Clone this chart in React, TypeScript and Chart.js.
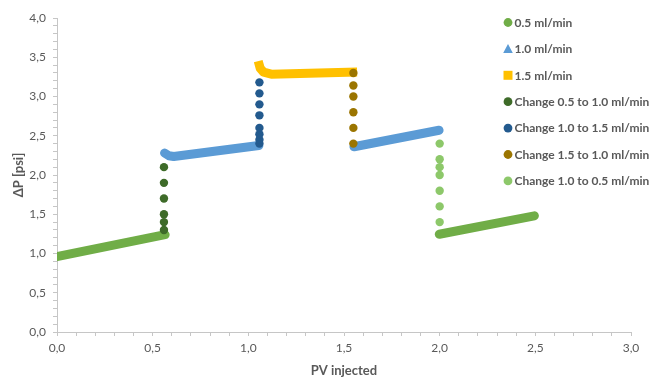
import { useEffect, useRef } from "react";
import { Chart, registerables } from "chart.js";

Chart.register(...registerables);

// ---- data ----
const flow05PV = [0.0, 0.565, null, 1.998, 2.495];
const flow05DP = [0.96, 1.24, null, 1.245, 1.48];

const flow10PV = [0.562, 0.585, 0.61, 1.055, null, 1.552, 1.997];
const flow10DP = [2.28, 2.245, 2.235, 2.375, null, 2.36, 2.57];

const flow15PV = [1.058, 1.062, 1.08, 1.12, 1.545];
const flow15DP = [3.395, 3.36, 3.31, 3.285, 3.31];

const change05to10PV = [0.559, 0.559, 0.559, 0.559, 0.559, 0.559];
const change05to10DP = [1.3, 1.4, 1.5, 1.7, 1.9, 2.1];

const change10to15PV = [1.058, 1.058, 1.058, 1.058, 1.058, 1.058, 1.058, 1.058];
const change10to15DP = [2.4, 2.45, 2.52, 2.6, 2.76, 2.9, 3.04, 3.18];

const change15to10PV = [1.549, 1.549, 1.549, 1.549, 1.549, 1.549];
const change15to10DP = [3.3, 3.14, 3.0, 2.8, 2.6, 2.4];

const change10to05PV = [2.0, 2.0, 2.0, 2.0, 2.0, 2.0, 2.0];
const change10to05DP = [2.4, 2.2, 2.1, 2.0, 1.8, 1.6, 1.4];

const seriesLabels = [
  "0.5 ml/min",
  "1.0 ml/min",
  "1.5 ml/min",
  "Change 0.5 to 1.0 ml/min",
  "Change 1.0 to 1.5 ml/min",
  "Change 1.5 to 1.0 ml/min",
  "Change 1.0 to 0.5 ml/min",
];

const xTitle = "PV injected";
const yTitle = "\u0394P [psi]";

const toPoints = (xs: (number | null)[], ys: (number | null)[]) =>
  xs.map((x, i) => ({ x: x as number, y: ys[i] as number }));

const fmt = (v: number) => v.toFixed(1).replace(".", ",");
const isMajor = (v: number) => Math.abs(v * 2 - Math.round(v * 2)) < 1e-6;

const GREY_TEXT = "#595959";
const AXIS = "#c6c6c6";

const legendPlugin = {
  id: "customLegend",
  afterDraw(chart: any) {
    const ctx = chart.ctx as CanvasRenderingContext2D;
    ctx.save();
    ctx.textBaseline = "middle";
    ctx.textAlign = "left";
    ctx.font = "bold 12px Lato";
    chart.data.datasets.forEach((ds: any, i: number) => {
      const y = 22.5 + i * 26.4;
      const x = 508;
      ctx.fillStyle = ds.legendColor;
      ctx.beginPath();
      if (ds.legendShape === "triangle") {
        ctx.moveTo(x, y - 5);
        ctx.lineTo(x - 4.8, y + 4);
        ctx.lineTo(x + 4.8, y + 4);
        ctx.closePath();
      } else if (ds.legendShape === "rect") {
        ctx.rect(x - 4.5, y - 4.5, 9, 9);
      } else {
        ctx.arc(x, y, 4.4, 0, Math.PI * 2);
      }
      ctx.fill();
      ctx.fillStyle = GREY_TEXT;
      ctx.fillText(ds.label, 514.5, y + 0.5);
    });
    ctx.restore();
  },
};

export default function App() {
  const canvasRef = useRef<HTMLCanvasElement | null>(null);

  useEffect(() => {
    document.body.style.margin = "0";
    const canvas = canvasRef.current;
    if (!canvas) return;

    const lineDs = (i: number, xs: any[], ys: any[], color: string, shape: string, cap: string) => ({
      label: seriesLabels[i],
      data: toPoints(xs, ys),
      borderColor: color,
      backgroundColor: color,
      borderWidth: 9,
      borderCapStyle: cap,
      borderJoinStyle: "round",
      pointRadius: 0,
      pointHoverRadius: 0,
      showLine: true,
      spanGaps: false,
      tension: 0,
      order: 2,
      legendColor: color,
      legendShape: shape,
    });

    const dotDs = (i: number, xs: any[], ys: any[], color: string) => ({
      label: seriesLabels[i],
      data: toPoints(xs, ys),
      borderColor: color,
      backgroundColor: color,
      pointRadius: 4.2,
      pointBorderWidth: 0,
      pointStyle: "circle",
      showLine: false,
      order: 1,
      legendColor: color,
      legendShape: "circle",
    });

    const chart = new Chart(canvas, {
      type: "line",
      data: {
        datasets: [
          lineDs(0, flow05PV, flow05DP, "#70AD47", "circle", "round"),
          lineDs(1, flow10PV, flow10DP, "#5B9BD5", "triangle", "round"),
          lineDs(2, flow15PV, flow15DP, "#FFC000", "rect", "square"),
          dotDs(3, change05to10PV, change05to10DP, "#3E6B29"),
          dotDs(4, change10to15PV, change10to15DP, "#235A8E"),
          dotDs(5, change15to10PV, change15to10DP, "#9B7500"),
          dotDs(6, change10to05PV, change10to05DP, "#8DC86A"),
        ] as any,
      },
      options: {
        animation: false,
        responsive: false,
        maintainAspectRatio: false,
        events: [],
        layout: { padding: { top: 18, right: 18, left: 0, bottom: 0 } },
        plugins: {
          legend: { display: false },
          tooltip: { enabled: false },
        },
        scales: {
          x: {
            type: "linear",
            min: 0,
            max: 3,
            afterFit: (s: any) => {
              s.height = 48;
            },
            ticks: {
              stepSize: 0.1,
              autoSkip: false,
              maxRotation: 0,
              padding: 5,
              color: GREY_TEXT,
              font: { family: "Lato", size: 12 },
              callback: (v: any) => (isMajor(Number(v)) ? fmt(Number(v)) : ""),
            },
            grid: { drawOnChartArea: false, drawTicks: true, tickLength: 4, color: AXIS },
            border: { color: AXIS },
            title: {
              display: true,
              text: xTitle,
              color: GREY_TEXT,
              font: { family: "Lato", size: 13, weight: "bold" },
              padding: { top: 0, bottom: 1 },
            },
          },
          y: {
            type: "linear",
            min: 0,
            max: 4,
            afterFit: (s: any) => {
              s.width = 57;
            },
            ticks: {
              stepSize: 0.1,
              autoSkip: false,
              padding: 7,
              color: GREY_TEXT,
              font: { family: "Lato", size: 12 },
              callback: (v: any) => (isMajor(Number(v)) ? fmt(Number(v)) : ""),
            },
            grid: { drawOnChartArea: false, drawTicks: true, tickLength: 4, color: AXIS },
            border: { color: AXIS },
            title: {
              display: true,
              text: yTitle,
              color: GREY_TEXT,
              font: { family: "Lato", size: 13, weight: "bold" },
              padding: { top: 11, bottom: 0 },
            },
          },
        },
      } as any,
      plugins: [legendPlugin],
    });

    return () => chart.destroy();
  }, []);

  return (
    <div style={{ width: 649, height: 380 }}>
      <canvas ref={canvasRef} width={649} height={380} style={{ display: "block" }} />
    </div>
  );
}
